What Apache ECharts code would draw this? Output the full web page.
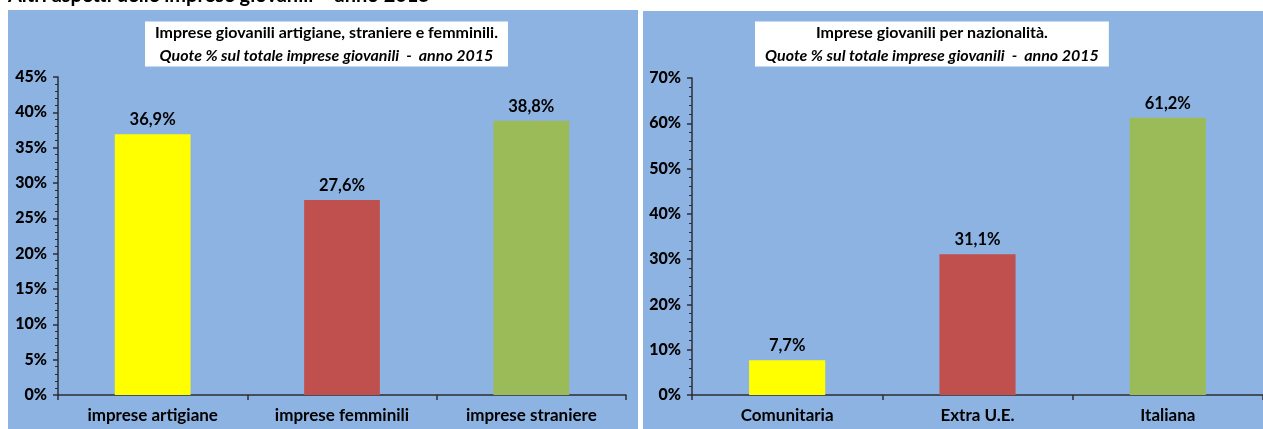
<!DOCTYPE html>
<html>
<head>
<meta charset="utf-8">
<script src="https://cdn.jsdelivr.net/npm/echarts@6/dist/echarts.min.js"></script>
<style>
html,body{margin:0;padding:0;background:#fff;}
#c{width:1263px;height:429px;}
</style>
</head>
<body>
<div id="c"></div>
<script>
var mainTitle = 'Altri aspetti delle imprese giovanili \u2013 anno 2015';
var title1 = 'Imprese giovanili artigiane, straniere e femminili.';
var title2 = 'Imprese giovanili per nazionalità';
var subTitle = 'Quote % sul totale imprese giovanili  -  anno 2015';
var cats1 = ['imprese artigiane', 'imprese femminili', 'imprese straniere'];
var vals1 = [36.9, 27.6, 38.8];
var cats2 = ['Comunitaria', 'Extra U.E.', 'Italiana'];
var vals2 = [7.7, 31.1, 61.2];
var barColors = ['#FFFF00', '#C0504D', '#9BBB59'];
var ticks1 = {min: 0, max: 45, interval: 5};
var ticks2 = {min: 0, max: 70, interval: 10};

var FONT = 'Lato, "Liberation Sans", Arial, sans-serif';
var BG = '#8DB3E2';
var AX = '#2b2f36';

function fmt(v){ return v.toFixed(1).replace('.', ',') + '%'; }

function yAxis(gi, t){
  return {
    type: 'value', gridIndex: gi, min: t.min, max: t.max, interval: t.interval,
    axisLine: {show: true, lineStyle: {color: AX, width: 1.5}},
    axisTick: {show: true, length: 5, lineStyle: {color: AX, width: 1.5}},
    minorTick: {show: true, splitNumber: 5, length: 3, lineStyle: {color: AX, width: 1}},
    splitLine: {show: false},
    axisLabel: {color: '#000', fontFamily: FONT, fontWeight: 900, fontSize: 16, margin: 11,
      formatter: function(v){ return v + '%'; }}
  };
}
function xAxis(gi, cats){
  return {
    type: 'category', gridIndex: gi, data: cats,
    axisLine: {show: true, lineStyle: {color: AX, width: 1.5}},
    axisTick: {show: true, length: 5, alignWithLabel: false, lineStyle: {color: AX, width: 1.5}},
    axisLabel: {color: '#000', fontFamily: FONT, fontWeight: 'bold', fontSize: 17, margin: 12}
  };
}
function series(gi, vals){
  return {
    type: 'bar', xAxisIndex: gi, yAxisIndex: gi, barWidth: '40%',
    data: vals.map(function(v, i){ return {value: v, itemStyle: {color: barColors[i]}}; }),
    label: {show: true, position: 'top', distance: 6, color: '#000', fontFamily: FONT,
      fontWeight: 'bold', fontSize: 16.5, formatter: function(p){ return fmt(p.value); }}
  };
}

var chart = echarts.init(document.getElementById('c'));
chart.setOption({
  animation: false,
  textStyle: {fontFamily: FONT},
  graphic: [
    {type: 'rect', z: -10, shape: {x: 8, y: 10, width: 630, height: 420}, style: {fill: BG}},
    {type: 'rect', z: -10, shape: {x: 643, y: 11, width: 620, height: 420}, style: {fill: BG}},
    {type: 'text', x: 8, y: -14, style: {text: mainTitle, fill: '#000', font: 'bold 20px ' + FONT}}
  ],
  title: [
    {left: 145, top: 18, backgroundColor: '#fff', padding: [3, 10, 3, 10],
      text: '{a|' + title1 + '}\n{b|' + subTitle + '}',
      textStyle: {rich: {
        a: {fontFamily: FONT, fontWeight: 'bold', fontSize: 16, color: '#000', align: 'center', lineHeight: 23},
        b: {fontFamily: FONT, fontStyle: 'italic', fontSize: 16, color: '#000', align: 'center', lineHeight: 23}
      }}},
    {left: 755, top: 18, backgroundColor: '#fff', padding: [3, 10, 3, 10],
      text: '{a|' + title2 + '}{c|.}\n{b|' + subTitle + '}',
      textStyle: {rich: {
        a: {fontFamily: FONT, fontWeight: 'bold', fontSize: 16, color: '#000', align: 'center', lineHeight: 23},
        c: {fontFamily: FONT, fontSize: 16, color: '#000', align: 'center', lineHeight: 23},
        b: {fontFamily: FONT, fontStyle: 'italic', fontSize: 16, color: '#000', align: 'center', lineHeight: 23}
      }}}
  ],
  grid: [
    {left: 58, right: 637, top: 77, bottom: 34},
    {left: 692, right: -1, top: 78, bottom: 34}
  ],
  xAxis: [xAxis(0, cats1), xAxis(1, cats2)],
  yAxis: [yAxis(0, ticks1), yAxis(1, ticks2)],
  series: [series(0, vals1), series(1, vals2)]
});
</script>
</body>
</html>
